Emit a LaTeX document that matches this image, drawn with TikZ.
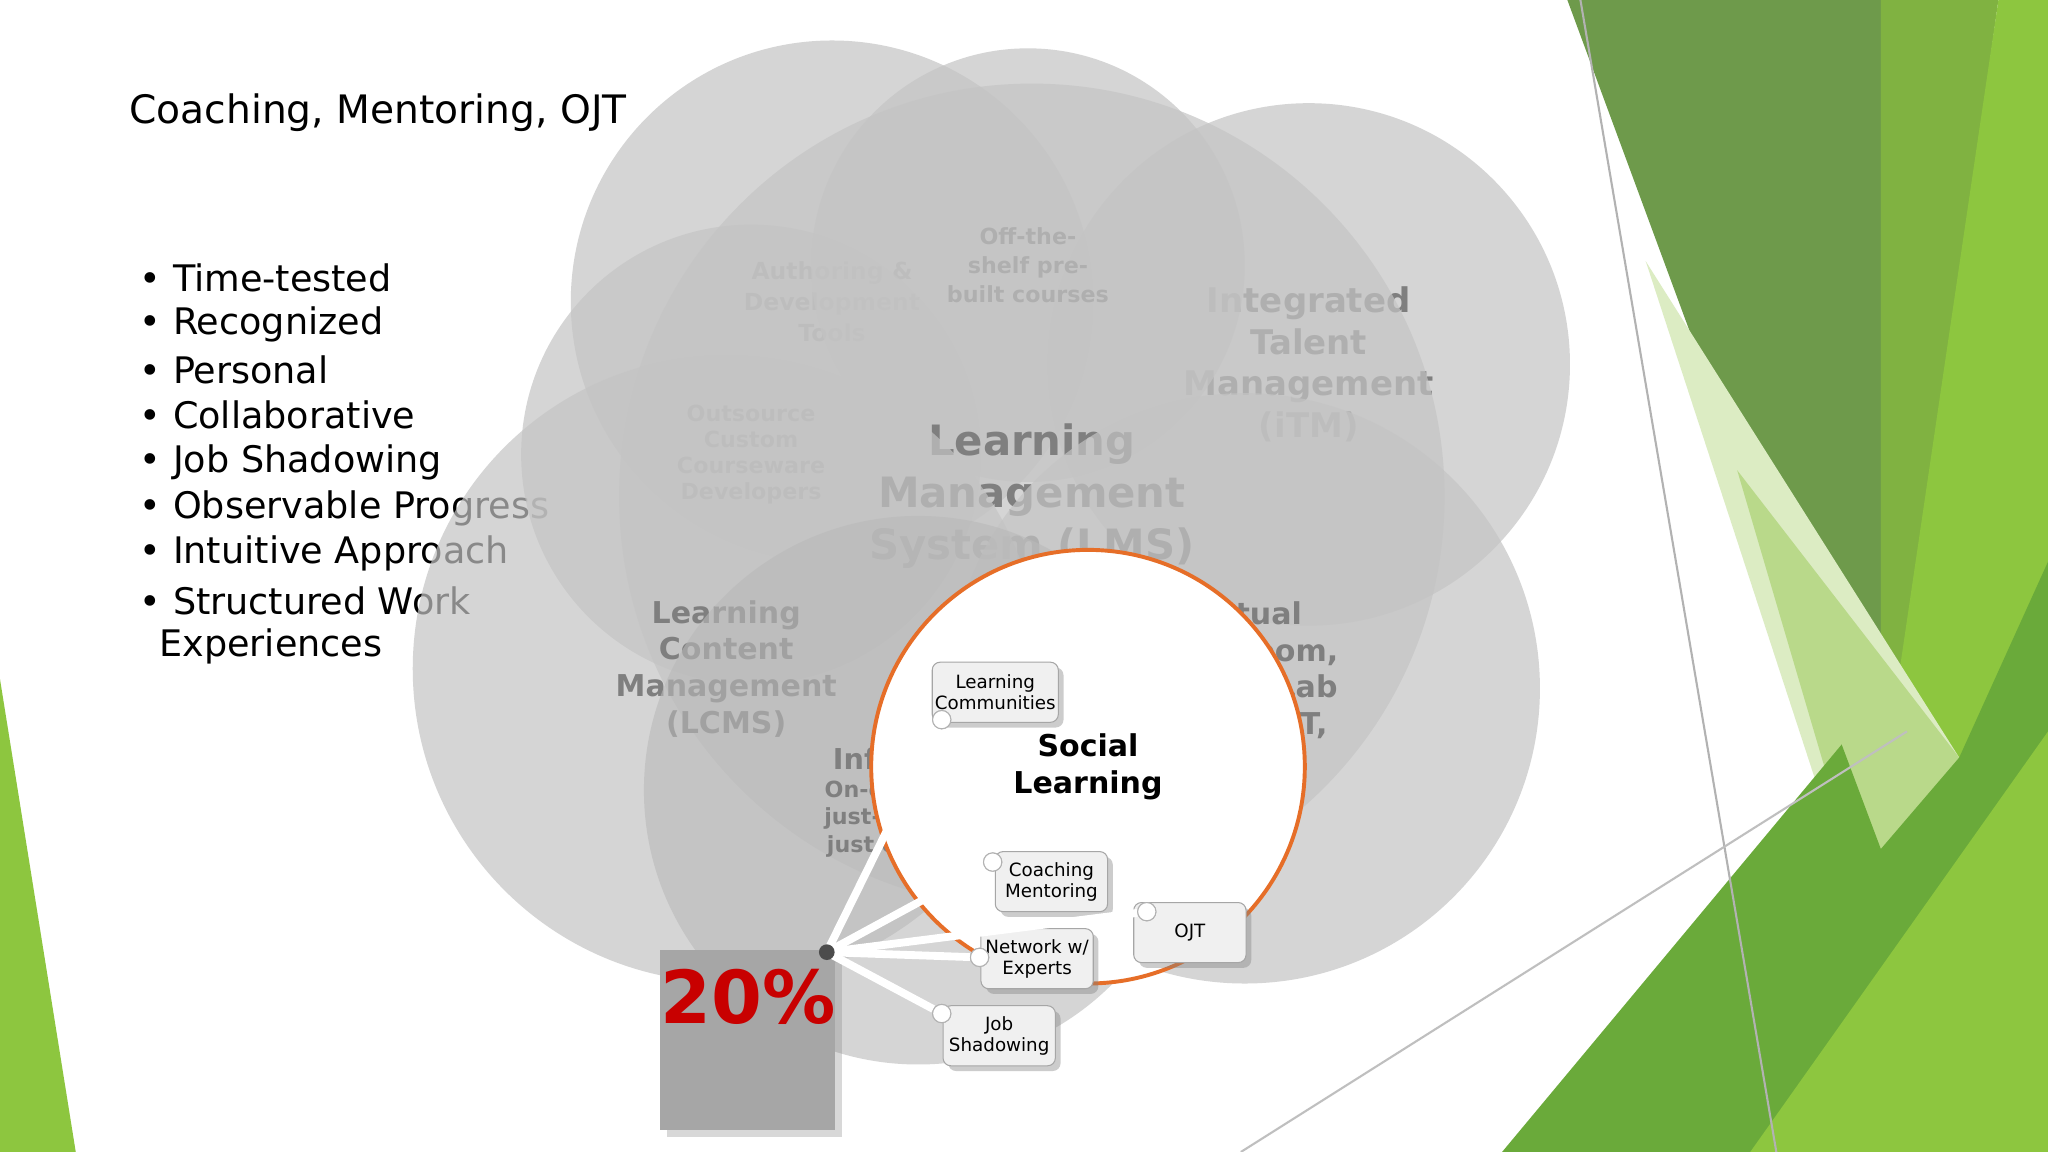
\documentclass[tikz,border=0pt]{standalone}
\usepackage{fontspec}
\setmainfont{DejaVu Sans}
\usetikzlibrary{shadows}
\definecolor{ctxt}{HTML}{7F7F7F}
\definecolor{cfill}{HTML}{C4C4C4}
\definecolor{gA}{RGB}{110,154,75}
\definecolor{gB}{RGB}{128,178,65}
\definecolor{gC}{RGB}{141,198,63}
\definecolor{gD}{RGB}{220,236,195}
\definecolor{gE}{RGB}{185,217,138}
\definecolor{gF}{RGB}{106,170,58}
\definecolor{corange}{RGB}{230,110,40}
\definecolor{cred}{RGB}{200,0,0}
\tikzset{
 bub/.style={circle,fill=cfill,fill opacity=0.7,text opacity=1,text=ctxt,align=center,font=\bfseries,inner sep=0pt},
 sbox/.style={draw=gray!70,rounded corners=3pt,fill=gray!12,minimum width=43pt,minimum height=23pt,align=center,font=\fontsize{7}{8}\selectfont,drop shadow={shadow xshift=2pt,shadow yshift=-2pt,opacity=0.4},inner sep=1pt},
 dot/.style={circle,fill=white,draw=gray!60,minimum size=7pt,inner sep=0pt},
 wl/.style={white,line width=3pt},
 bl/.style={anchor=west,font=\fontsize{14}{16}\selectfont}
}
\begin{document}
\begin{tikzpicture}[x=0.5pt,y=-0.5pt]
\useasboundingbox (0,0) rectangle (1568,882);
\fill[white] (0,0) rectangle (1568,882);
% right decoration
\fill[gA] (1200,0)--(1440,0)--(1440,650)--cycle;
\fill[gB] (1440,0)--(1530,0)--(1440,650)--cycle;
\fill[gC] (1530,0)--(1568,0)--(1568,882)--(1400,882)--cycle;
\fill[gD] (1260,200)--(1500,580)--(1430,720)--cycle;
\fill[gE] (1330,360)--(1500,580)--(1430,700)--cycle;
\fill[gF] (1150,882)--(1410,570)--(1440,650)--(1500,580)--(1568,430)--(1568,882)--cycle;
\fill[gC] (1340,882)--(1568,560)--(1568,882)--cycle;
\draw[gray!60,line width=0.8pt] (1210,0)--(1360,882);
\draw[gray!50,line width=0.8pt] (950,882)--(1460,560);
\fill[gC] (0,520)--(58,882)--(0,882)--cycle;
% title
\node[anchor=west,font=\fontsize{15}{18}\selectfont] (title) at (92,86) {Coaching, Mentoring, OJT};
\foreach \y/\t [count=\i] in {213/Time-tested,248/Recognized,283/Personal,318/Collaborative,354/Job Shadowing,389/Observable Progress,424/Intuitive Approach,460/Structured Work}
 {\node[bl] (b\i) at (100,\y) {• \t};}
\node[bl] (b9) at (115,495) {Experiences};
% bubbles
\node[bub,minimum size=200pt,font=\bfseries\fontsize{13}{16}\selectfont] (itm) at (1002,279) {Integrated\\Talent\\Management\\(iTM)};
\node[bub,minimum size=200pt,font=\bfseries\fontsize{9}{12}\selectfont] (auth) at (637,231) {Authoring \&\\Development\\Tools};
\node[bub,minimum size=166pt,font=\bfseries\fontsize{8.5}{11}\selectfont] (ots) at (787,203) {Off-the-\\shelf pre-\\built courses};
\node[bub,minimum size=176pt,font=\bfseries\fontsize{8.5}{10}\selectfont] (out) at (575,348) {Outsource\\Custom\\Courseware\\Developers};
\node[bub,minimum size=316pt,font=\bfseries\fontsize{16}{20}\selectfont] (lms) at (790,380) {Learning\\Management\\System (LMS)};
\node[bub,minimum size=240pt,font=\bfseries\fontsize{11.5}{14}\selectfont] (lcms) at (556,512) {Learning\\Content\\Management\\(LCMS)};
\node[bub,minimum size=226pt,font=\bfseries\fontsize{11.5}{14}\selectfont] (virt) at (953,527) {Virtual\\Classroom,\\Virtual Lab\\(VLT, VILT,\\VLE)};
\node[circle,minimum size=210pt,fill=gray!55,fill opacity=0.6,inner sep=0pt] (inf) at (703,605) {};
\node[text=ctxt,align=center,font=\bfseries\fontsize{11}{13}\selectfont] (inft) at (690,581) {Informal};
\node[text=ctxt,align=center,font=\bfseries\fontsize{8.5}{10.5}\selectfont] (infs) at (690,627) {On-demand,\\just-in-time,\\just enough};
\node[circle,minimum size=166pt,fill=white,draw=corange,line width=1.5pt,align=center,font=\bfseries\fontsize{11.5}{14}\selectfont,inner sep=0pt] (soc) at (833,587) {Social\\Learning};
% 20%
\node[fill=gray!70,minimum width=67pt,minimum height=69pt,drop shadow={opacity=0.3}] (pct) at (572,796) {};
\node[text=cred,font=\bfseries\fontsize{28}{30}\selectfont] (pctt) at (573,763) {20\%};
% boxes
\node[sbox] (lc) at (762,530) {Learning\\Communities};
\node[sbox] (cm) at (805,675) {Coaching\\Mentoring};
\node[sbox] (ojt) at (911,714) {OJT};
\node[sbox] (ne) at (794,734) {Network w/\\Experts};
\node[sbox] (js) at (765,793) {Job\\Shadowing};
\coordinate (hub) at (633,729);
\node[dot] (d1) at (721,551) {};
\node[dot] (d2) at (760,660) {};
\node[dot] (d3) at (878,698) {};
\node[dot] (d4) at (750,733) {};
\node[dot] (d5) at (721,776) {};
\foreach \d in {d1,d2,d3,d4,d5} {\draw[wl] (hub)--(\d);}
\foreach \d in {d1,d2,d3,d4,d5} {\node[dot] at (\d) {};}
\fill[black!70] (hub) circle (3pt);
\end{tikzpicture}
\end{document}
